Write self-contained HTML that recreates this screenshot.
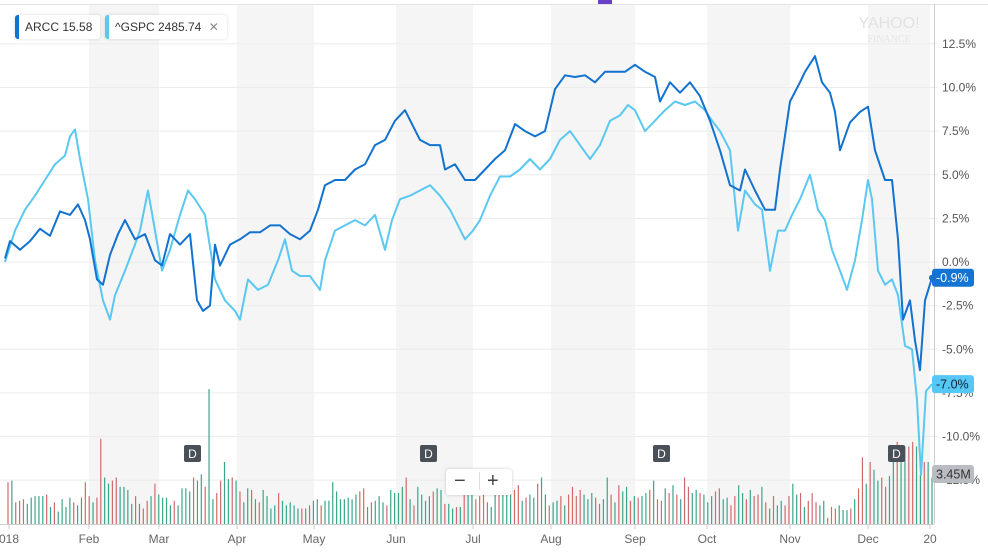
<!DOCTYPE html>
<html><head><meta charset="utf-8"><style>
body{margin:0;background:#fff;font-family:"Liberation Sans",sans-serif;}
#wrap{position:relative;width:988px;height:554px;overflow:hidden;}
.leg{position:absolute;top:15px;height:24px;background:#fff;border-radius:3px;box-shadow:0 0 3px rgba(0,0,0,.15);font-size:12px;color:#333;line-height:24px;padding:0 8px 0 10px;}
.leg:before{content:"";position:absolute;left:0;top:0;bottom:0;width:4px;border-radius:3px 0 0 3px;background:var(--c);}
</style></head><body>
<div id="wrap">
<svg id="chart" width="988" height="554"></svg>
<div class="leg" style="left:15px;--c:#1272d0">ARCC 15.58</div>
<div class="leg" style="left:105px;--c:#5ac8f0">^GSPC 2485.74 <span style="color:#888;margin-left:4px">✕</span></div>
<div style="position:absolute;left:446px;top:469px;width:66px;height:26px;background:#fff;border-radius:3px;box-shadow:0 0 3px rgba(0,0,0,.2);font-size:20px;color:#444;line-height:25px"><span style="position:absolute;left:8px">−</span><span style="position:absolute;left:33px;top:3px;width:1px;height:18px;background:#ddd"></span><span style="position:absolute;left:41px">+</span></div>
</div>
<script>
const ns="http://www.w3.org/2000/svg";
const svg=document.getElementById('chart');
const monthLabels=["018","Feb","Mar","Apr","May","Jun","Jul","Aug","Sep","Oct","Nov","Dec","20"];
const monthX=[9,89,159,237,314,396,473,551,635,707,790,868,930];
const yTicks=[12.5,10,7.5,5,2.5,0,-2.5,-5,-7.5,-10,-12.5];
const arccX=[5,10,20,30,40,50,60,70,78,85,90,97,103,110,118,125,135,145,155,162,170,180,190,197,203,210,215,220,230,240,250,260,270,280,290,300,310,318,325,335,345,355,365,375,385,395,405,412,420,430,440,445,455,465,475,485,495,505,515,525,535,545,555,565,575,585,595,605,615,625,635,645,655,660,670,680,690,700,710,720,730,740,745,755,765,775,780,790,800,805,815,822,830,835,840,850,860,868,875,885,892,898,903,910,915,920,925,932];
const arccY=[0.2,1.2,0.7,1.2,1.9,1.5,2.9,2.7,3.3,2.4,1.3,-1.0,-1.3,0.4,1.6,2.4,1.3,1.6,0.1,-0.2,1.6,1.0,1.6,-2.2,-2.8,-2.5,1.0,-0.2,1.0,1.3,1.7,1.7,2.1,2.1,1.6,1.3,1.8,3.0,4.4,4.7,4.7,5.3,5.6,6.7,7.0,8.1,8.7,7.9,7.0,6.7,6.7,5.3,5.6,4.7,4.7,5.3,5.9,6.4,7.9,7.5,7.2,7.5,9.9,10.7,10.6,10.7,10.3,10.9,10.9,10.9,11.3,10.9,10.6,9.2,10.3,9.7,10.3,9.5,8.1,6.4,4.4,4.1,5.3,4.1,3.0,3.0,5.3,9.2,10.3,10.9,11.8,10.3,9.7,8.6,6.4,8.0,8.6,8.9,6.4,4.7,4.7,1.3,-3.3,-2.2,-4.5,-6.2,-2.2,-0.9];
const gspcX=[5,15,25,35,45,55,65,70,75,80,88,95,103,110,115,125,135,140,148,155,162,170,180,188,195,205,215,225,235,240,248,258,268,278,285,292,300,310,320,325,335,345,355,365,375,385,392,400,410,420,430,440,450,458,465,473,480,490,500,510,520,530,540,550,560,570,580,590,600,610,620,628,635,645,655,665,675,685,695,705,712,720,730,738,745,755,762,770,778,785,792,800,810,818,825,832,840,847,855,862,868,872,878,885,892,898,905,912,917,921,926,932];
const gspcY=[0,1.8,3.0,3.8,4.7,5.6,6.1,7.2,7.6,5.9,3.6,0.1,-2.2,-3.3,-1.9,-0.5,1.0,1.8,4.1,1.8,-0.5,0.7,2.7,4.1,3.6,2.7,-1.0,-2.2,-2.8,-3.3,-1.0,-1.6,-1.3,0.1,1.3,-0.5,-0.8,-0.8,-1.6,0.1,1.8,2.1,2.4,2.1,2.7,0.7,2.4,3.6,3.8,4.1,4.4,3.8,3.0,2.1,1.3,1.8,2.4,3.8,4.9,4.9,5.3,5.9,5.3,5.9,7.0,7.5,6.7,5.9,6.7,8.1,8.4,9.0,8.7,7.5,8.1,8.7,9.2,9.0,9.2,8.7,8.1,7.5,6.4,1.8,4.1,3.3,3.0,-0.5,1.8,1.8,2.7,3.6,5.0,3.0,2.4,0.7,-0.5,-1.6,0.1,2.4,4.7,3.6,-0.5,-1.3,-1.0,-1.9,-4.8,-5.0,-7.9,-12.2,-7.4,-7.0];
const vol=[2.7,2.8,1.4,1.5,1.6,1.3,1.7,1.8,1.8,1.8,1.9,1.1,1.4,0.8,1.6,1.1,1.7,1.4,1.2,1.7,2.7,1.8,1.4,1.7,5.5,3.0,2.6,2.8,3.0,2.4,2.4,2.2,1.3,1.8,1.3,1.0,1.5,1.8,2.6,1.9,1.7,1.7,1.2,1.5,1.2,2.3,2.3,2.1,3.0,2.8,3.2,2.4,8.7,1.6,2.0,2.8,4.0,2.9,3.0,2.8,2.1,1.4,2.3,2.2,1.6,1.4,2.2,1.8,1.0,1.2,2.0,1.5,1.2,1.4,1.2,1.0,1.0,1.0,1.2,1.5,1.6,1.2,1.5,1.5,2.7,2.1,1.6,1.6,1.7,1.6,1.9,2.1,2.3,1.1,1.4,1.5,1.8,1.4,1.2,2.2,2.0,2.0,2.4,3.0,1.6,1.2,2.4,1.9,1.5,1.8,2.1,2.3,2.2,1.3,1.3,1.0,1.1,1.1,1.9,2.4,2.1,1.6,1.8,1.9,1.4,1.1,2.7,2.1,1.9,2.3,2.8,2.2,2.5,1.5,1.7,1.9,1.7,2.6,3.0,1.9,1.2,1.4,1.5,1.8,1.2,1.9,2.4,1.8,2.2,1.9,1.6,2.0,1.7,1.3,1.6,3.0,1.9,1.4,2.5,2.1,2.4,1.5,1.8,1.7,1.8,2.0,2.2,2.8,1.6,1.5,2.3,2.0,2.5,1.9,1.6,3.0,2.4,2.0,2.2,2.0,1.9,1.4,1.8,2.1,2.3,1.6,1.7,1.2,1.8,2.5,2.0,1.6,2.2,1.8,1.9,2.4,1.4,1.0,1.8,1.2,1.5,1.2,1.8,2.6,1.9,2.0,1.1,1.5,2.0,1.4,1.2,1.5,0.4,1.1,1.0,1.2,0.9,0.9,1.0,1.6,2.3,4.3,2.6,4.0,3.5,2.8,3.0,2.4,3.1,5.0,5.3,4.8,5.0,5.0,5.3,5.0,3.2,4.0,4.0,3.0];
const volUp=[0,1,0,0,0,1,1,1,1,1,0,1,0,1,1,1,1,0,1,1,0,0,1,0,0,1,1,0,0,1,1,1,1,0,1,0,0,1,0,1,1,1,1,0,1,1,1,1,0,1,1,0,1,1,0,0,1,1,0,1,0,1,1,0,1,0,1,1,1,1,0,1,1,1,1,1,0,1,0,1,1,0,1,1,1,1,1,1,1,1,1,0,0,1,0,1,1,1,0,1,1,1,1,0,1,0,1,1,1,1,0,1,1,0,1,1,0,1,0,1,1,0,0,0,0,1,1,0,1,1,1,0,0,1,0,1,1,0,1,1,0,1,1,0,1,0,0,0,0,1,1,1,0,0,1,1,0,1,0,1,1,0,1,0,1,1,0,1,0,0,1,0,1,0,1,0,0,1,1,0,1,1,1,0,0,1,1,0,0,1,1,0,1,0,0,1,0,1,0,1,1,0,0,1,1,0,1,0,0,0,1,1,0,0,0,1,1,1,0,1,0,0,1,0,1,1,0,0,1,1,0,1,1,0,0,1,1,0,1,1,0,1,1,1,1];
const divX=[193,429,662,897];
const X0=5,X1=932,Y0=262,PX=17.45,VB=524,VS=15.5;
const yS=v=>Y0-v*PX;
const vS=v=>VB-v*VS;
function el(t,a,p){const e=document.createElementNS(ns,t);for(const k in a)e.setAttribute(k,a[k]);(p||svg).appendChild(e);return e;}
for(let i=1;i<monthX.length-1;i+=2){const r=el('rect',{x:monthX[i],y:4,width:monthX[i+1]-monthX[i],height:520,fill:'#f5f5f5'});

}
el('line',{x1:0,y1:4.5,x2:988,y2:4.5,stroke:'#e3e3e3'});
el('rect',{x:598,y:0,width:14,height:4,fill:'#6a3fc9'});
const logo=el('text',{x:889,y:28,'text-anchor':'middle','font-size':16,fill:'#e2e2e2','font-family':'Liberation Sans'});logo.textContent='YAHOO!';


const lg2=el('text',{x:889,y:42,'text-anchor':'middle','font-size':10,fill:'#e6e6e6','font-family':'Liberation Serif'});lg2.textContent='FINANCE';
yTicks.forEach(v=>{const y=yS(v);
const g=el('line',{x1:0,y1:y,x2:938,y2:y,stroke:'#ececec'});


const t=el('text',{x:942,y:y+4,'font-size':12,fill:'#555'});t.textContent=v.toFixed(1)+'%';

});
el('line',{x1:934.5,y1:4,x2:934.5,y2:524,stroke:'#ccc'});
el('line',{x1:0,y1:524.5,x2:934,y2:524.5,stroke:'#ccc'});
monthLabels.forEach((m,i)=>{el('line',{x1:monthX[i],y1:524,x2:monthX[i],y2:529,stroke:'#ccc'});
const t=el('text',{x:monthX[i],y:543,'text-anchor':'middle','font-size':12,fill:'#666'});t.textContent=m;

});
vol.forEach((v,i)=>{const x=X0+3+i*(X1-X0-3)/(vol.length-1);
const b=el('line',{x1:x,y1:VB,x2:x,y2:vS(v),stroke:volUp[i]?'#3aa58a':'#d06a6a','stroke-width':1.2});

});
divX.forEach(x=>{const g=el('g',{});


el('rect',{x:x-9,y:445,width:17,height:17,rx:2,fill:'#4a5058'},g);
const t=el('text',{x:x-0.5,y:458,'text-anchor':'middle','font-size':12,fill:'#fff'},g);t.textContent='D';});
function line(xs,ys,c,n){const p=el('path',{d:xs.map((x,i)=>(i?'L':'M')+x+','+yS(ys[i]).toFixed(1)).join(''),fill:'none',stroke:c,'stroke-width':2,'stroke-linejoin':'round'});

}
line(gspcX,gspcY,'#5ac8f0','gspc-line');
line(arccX,arccY,'#1272d0','arcc-line');
function badge(y,txt,bg,fg,n){const g=el('g',{});


el('rect',{x:932,y:y-9,width:42,height:18,rx:3,fill:bg},g);
const t=el('text',{x:936,y:y+4.5,'font-size':12.5,fill:fg},g);t.textContent=txt;}
badge(yS(arccY[arccY.length-1]),arccY[arccY.length-1].toFixed(1)+'%','#1474d4','#fff','arcc-last-badge');
el('circle',{cx:932,cy:yS(arccY[arccY.length-1]),r:3,fill:'#1272d0'});
badge(yS(gspcY[gspcY.length-1]),gspcY[gspcY.length-1].toFixed(1)+'%','#55c8f5','#123','gspc-last-badge');
badge(474,'3.45M','#b9bcc2','#333','volume-badge');
</script>
</body></html>
